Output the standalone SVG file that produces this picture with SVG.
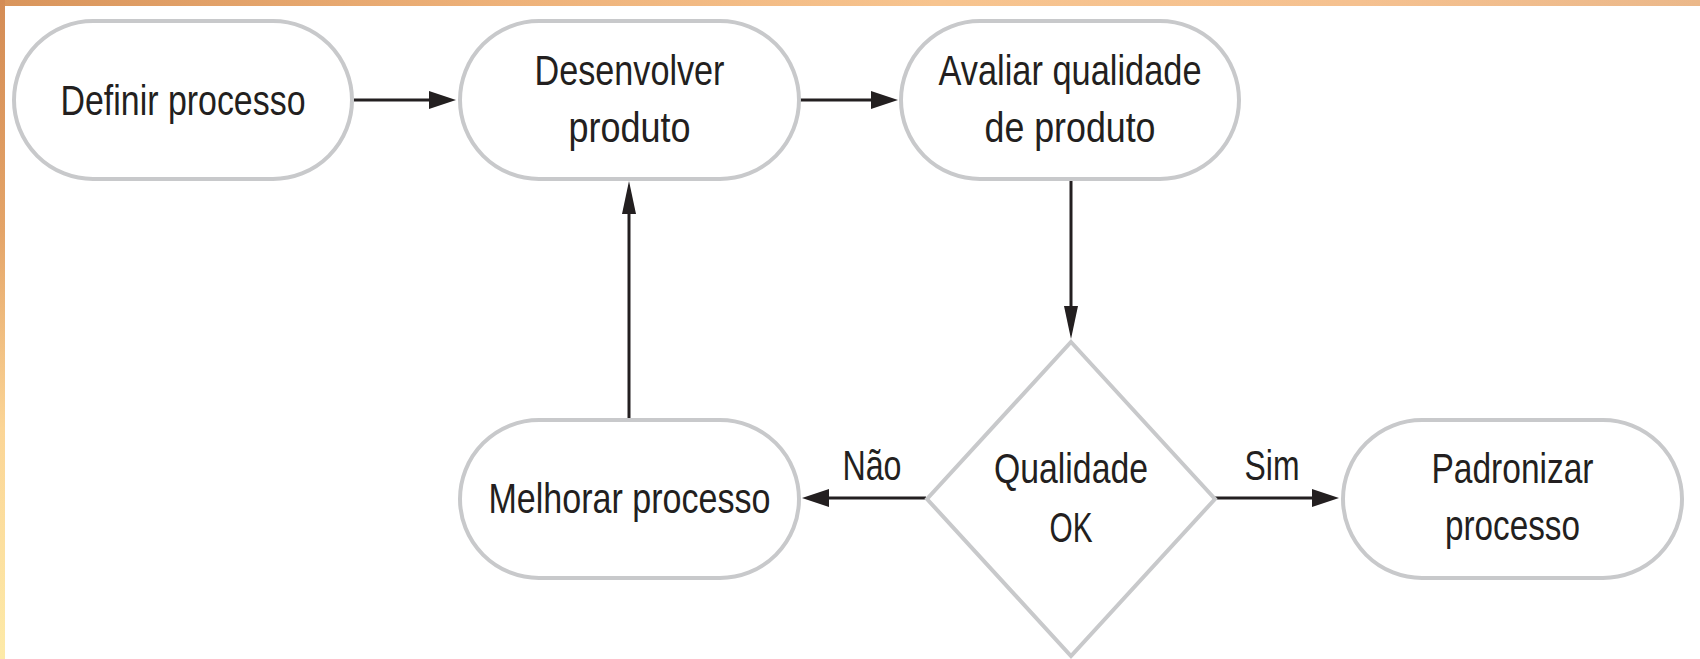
<svg xmlns="http://www.w3.org/2000/svg" width="1700" height="659" viewBox="0 0 1700 659">
  <defs>
    <linearGradient id="gTop" x1="0" y1="0" x2="1" y2="0">
      <stop offset="0" stop-color="#d9955c"/>
      <stop offset="0.3" stop-color="#eeb27a"/>
      <stop offset="0.55" stop-color="#f7c48f"/>
      <stop offset="0.8" stop-color="#f5c190"/>
      <stop offset="1" stop-color="#ebb88a"/>
    </linearGradient>
    <linearGradient id="gLeft" x1="0" y1="0" x2="0" y2="1">
      <stop offset="0" stop-color="#d48c55"/>
      <stop offset="0.35" stop-color="#e4a468"/>
      <stop offset="0.65" stop-color="#fbd596"/>
      <stop offset="1" stop-color="#fdeaa8"/>
    </linearGradient>
    <marker id="ah" markerUnits="userSpaceOnUse" markerWidth="28" markerHeight="20" refX="8" refY="9" orient="auto">
      <path d="M0,0 L27,9 L0,18 Z" fill="#231f20"/>
    </marker>
    <marker id="av" markerUnits="userSpaceOnUse" markerWidth="34" markerHeight="16" refX="8" refY="7" orient="auto">
      <path d="M0,0 L33,7 L0,14 Z" fill="#231f20"/>
    </marker>
  </defs>
  <style>
    .node { fill: #ffffff; stroke: #c8c9cb; stroke-width: 4; }
    .lbl { font-family: "Liberation Sans", Arial, sans-serif; font-size: 43px; fill: #231f20; text-anchor: middle; }
    .edge { stroke: #231f20; stroke-width: 3; fill: none; }
    .eh { marker-end: url(#ah); }
    .ev { marker-end: url(#av); }
  </style>

  <rect x="0" y="0" width="1700" height="659" fill="#ffffff"/>
  <rect x="0" y="0" width="1700" height="6" fill="url(#gTop)"/>
  <rect x="0" y="0" width="5" height="659" fill="url(#gLeft)"/>

  <g id="connectors">
    <line class="edge eh" x1="354" y1="100" x2="437" y2="100"/>
    <line class="edge eh" x1="800" y1="100" x2="879" y2="100"/>
    <line class="edge ev" x1="1071" y1="180" x2="1071" y2="314"/>
    <line class="edge ev" x1="629" y1="418" x2="629" y2="206"/>
    <line class="edge eh" x1="926" y1="498" x2="821" y2="498"/>
    <line class="edge eh" x1="1215" y1="498" x2="1320" y2="498"/>
    <text class="lbl" x="872" y="480" textLength="59" lengthAdjust="spacingAndGlyphs">Não</text>
    <text class="lbl" x="1272" y="480" textLength="55" lengthAdjust="spacingAndGlyphs">Sim</text>
  </g>

  <g id="definir">
    <rect class="node" x="14" y="21" width="338" height="158" rx="79" ry="79"/>
    <text class="lbl" x="183" y="115" textLength="245" lengthAdjust="spacingAndGlyphs">Definir processo</text>
  </g>
  <g id="desenvolver">
    <rect class="node" x="460" y="21" width="339" height="158" rx="79" ry="79"/>
    <text class="lbl" x="629.5" y="85" textLength="190" lengthAdjust="spacingAndGlyphs">Desenvolver</text>
    <text class="lbl" x="629.5" y="142" textLength="122" lengthAdjust="spacingAndGlyphs">produto</text>
  </g>
  <g id="avaliar">
    <rect class="node" x="901" y="21" width="338" height="158" rx="79" ry="79"/>
    <text class="lbl" x="1070" y="85" textLength="263" lengthAdjust="spacingAndGlyphs">Avaliar qualidade</text>
    <text class="lbl" x="1070" y="142" textLength="171" lengthAdjust="spacingAndGlyphs">de produto</text>
  </g>
  <g id="qualidade">
    <polygon class="node" points="1071,342 1215,499 1071,656 927,499"/>
    <text class="lbl" x="1071" y="483" textLength="154" lengthAdjust="spacingAndGlyphs">Qualidade</text>
    <text class="lbl" x="1071" y="542" textLength="43" lengthAdjust="spacingAndGlyphs">OK</text>
  </g>
  <g id="melhorar">
    <rect class="node" x="460" y="420" width="339" height="158" rx="79" ry="79"/>
    <text class="lbl" x="629.5" y="513" textLength="282" lengthAdjust="spacingAndGlyphs">Melhorar processo</text>
  </g>
  <g id="padronizar">
    <rect class="node" x="1343" y="420" width="339" height="158" rx="79" ry="79"/>
    <text class="lbl" x="1512.5" y="483" textLength="162" lengthAdjust="spacingAndGlyphs">Padronizar</text>
    <text class="lbl" x="1512.5" y="540" textLength="135" lengthAdjust="spacingAndGlyphs">processo</text>
  </g>
</svg>
